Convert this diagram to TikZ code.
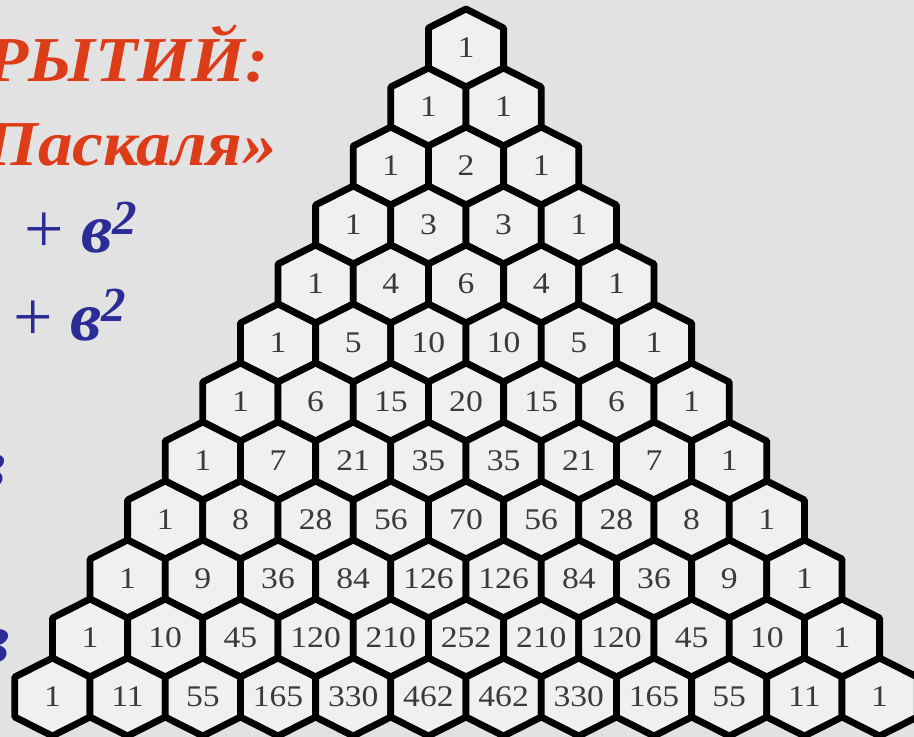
\documentclass[tikz,border=0pt]{standalone}
\usepackage{fontspec}
\setmainfont{Liberation Serif}
\newfontfamily\numfont[FakeStretch=1.12]{Liberation Serif}
\newfontfamily\capfont[FakeStretch=1.08]{Liberation Serif}
\definecolor{bgc}{HTML}{E2E2E2}
\definecolor{hexc}{HTML}{F0F0F0}
\definecolor{numc}{HTML}{3A3A3A}
\definecolor{redc}{HTML}{DD3C18}
\definecolor{bluec}{HTML}{2C2C96}
\begin{document}
\begin{tikzpicture}[x=0.5pt,y=-0.5pt,
  hexline/.style={draw=black, line width=3.4pt, line join=round, fill=hexc},
  hexnum/.style={font=\numfont\fontsize{15}{17}\selectfont, text=numc, inner sep=0pt},
  redtitle/.style={font=\capfont\bfseries\itshape\fontsize{32}{36}\selectfont, text=redc, inner sep=0pt, anchor=base west},
  blueform/.style={font=\fontsize{35}{40}\selectfont, text=bluec, inner sep=0pt, anchor=base west}]
\useasboundingbox (0,0) rectangle (914,737);
\clip (0,0) rectangle (914,737);
\fill[bgc] (0,0) rectangle (914,737);
% left texts
\node[redtitle] (t1) at (-14,82) {РЫТИЙ:};
\node[redtitle] (t2) at (-16,166) {Паскаля»};
\node[blueform] (f1) at (24,253) {+ \textbf{\textit{в}}\textsuperscript{\textbf{\textit{2}}}};
\node[blueform] (f2) at (13,340) {+ \textbf{\textit{в}}\textsuperscript{\textbf{\textit{2}}}};
\node[blueform] (f3) at (-26,487) {\textbf{\textit{в}}};
\node[blueform] (f4) at (-22,662) {\textbf{\textit{в}}};
% Pascal triangle
\foreach \row [count=\r from 0] in {{1},{1,1},{1,2,1},{1,3,3,1},{1,4,6,4,1},{1,5,10,10,5,1},{1,6,15,20,15,6,1},{1,7,21,35,35,21,7,1},{1,8,28,56,70,56,28,8,1},{1,9,36,84,126,126,84,36,9,1},{1,10,45,120,210,252,210,120,45,10,1},{1,11,55,165,330,462,462,330,165,55,11,1}} {
  \foreach \v [count=\k from 0] in \row {
    \pgfmathsetmacro\cx{466+(\k-\r/2)*75.2}
    \pgfmathsetmacro\cy{48+\r*59}
    \draw[hexline] (\cx,\cy-39) -- ++(37.6,19) -- ++(0,40) -- ++(-37.6,19) -- ++(-37.6,-19) -- ++(0,-40) -- cycle;
    \node[hexnum] (h-\r-\k) at (\cx,\cy) {\v};
  }
}
\end{tikzpicture}
\end{document}
